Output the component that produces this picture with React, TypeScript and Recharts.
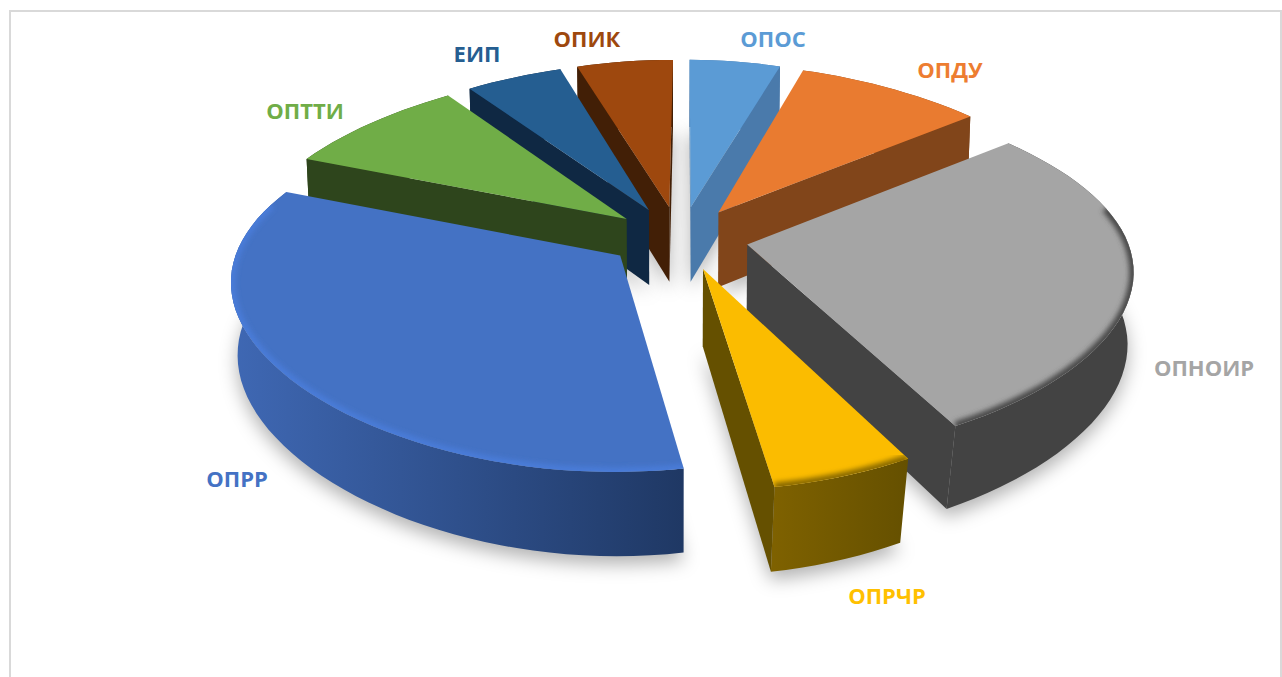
import React from 'react';
import { PieChart, Pie } from 'recharts';

const categories = ['ОПТТИ', 'ЕИП', 'ОПИК', 'ОПОС', 'ОПДУ', 'ОПНОИР', 'ОПРЧР', 'ОПРР'];
const shares = [8.8, 5, 5.3, 5, 9.4, 27.5, 5.4, 33.6];

// back slices first, so the nearer ones cover their walls
const paintOrder = ['ОПИК', 'ОПОС', 'ЕИП', 'ОПДУ', 'ОПТТИ', 'ОПНОИР', 'ОПРЧР', 'ОПРР'];

const topColors = ['#70AD47', '#255E91', '#9E480E', '#5B9BD5', '#E97B30', '#A5A5A5', '#FBBC00', '#4472C4'];
const wallColors = ['#2E451C', '#0F2843', '#421F06', '#4A7AAB', '#81451A', '#434343', '#655000', '#2F5597'];
const rimFrom = ['#2E451C', '#0F2843', '#421F06', '#4A7AAB', '#81451A', '#434343', '#7E6100', '#3F68B4'];
const rimTo = ['#2E451C', '#0F2843', '#421F06', '#4A7AAB', '#81451A', '#434343', '#655000', '#1F3864'];
const bevelColors = ['none', 'none', 'none', 'none', 'none', '#4A4A4A', '#8A6A00', '#4A7CD8'];
const labelColors = ['#70AD47', '#255E91', '#9E480E', '#5B9BD5', '#ED7D31', '#A5A5A5', '#FFC000', '#4472C4'];

const labelPos: Record<string, [number, number]> = {
  'ОПТТИ': [305, 110],
  'ЕИП': [477, 53],
  'ОПИК': [587, 38],
  'ОПОС': [773, 38],
  'ОПДУ': [950, 69],
  'ОПНОИР': [1204, 367],
  'ОПРЧР': [887, 595],
  'ОПРР': [237, 478],
};

const table = categories.map((name, i) => ({ name, value: shares[i], fill: topColors[i] }));

const WIDTH = 1282;
const HEIGHT = 677;
const CX = 680;
const CY = 238;
const RX = 385;
const Y_RATIO = 178 / 385; // squash of the disc
const PERSP = 0.15;
const EXPLODE = 0.18;
const EXPLODE_BIG = 0.2; // the largest slice sits a bit further out
const WALL = 76;

type Pt = [number, number];

// unit disc to screen, depth=1 is the floor of the slice
function project(x: number, y: number, depth: number, cx: number, cy: number, r: number): Pt {
  const sx = 0.985 + 0.15 * y - 0.045 * y * y;
  const sy = 1 / (1 - PERSP * y);
  const converge = 1 - depth * (0.009 + 0.025 * Math.max(0, y));
  return [
    cx + r * x * sx * converge,
    cy + r * Y_RATIO * y * sy + depth * WALL * (1 + 0.1 * y),
  ];
}

function sliceGeometry(props: any) {
  const { cx, cy, outerRadius, startAngle, endAngle, name } = props;
  const a0 = ((90 - startAngle) * Math.PI) / 180;
  const a1 = ((90 - endAngle) * Math.PI) / 180;
  const mid = (a0 + a1) / 2;
  const big = name === 'ОПРР';
  const ex = Math.sin(mid) * (big ? EXPLODE_BIG : EXPLODE);
  const ey = -Math.cos(mid) * (big ? 0.155 : EXPLODE);
  const n = Math.max(6, Math.ceil((a1 - a0) * 24));
  const ring: [number, number][] = [];
  for (let i = 0; i <= n; i++) {
    const a = a0 + ((a1 - a0) * i) / n;
    ring.push([ex + Math.sin(a), ey - Math.cos(a)]);
  }
  const p = (w: [number, number], d: number) => project(w[0], w[1], d, cx, cy, outerRadius);
  return {
    ring,
    top: ring.map((w) => p(w, 0)),
    bottom: ring.map((w) => p(w, 1)),
    apex: p([ex, ey], 0),
    apexLow: p([ex, ey], 1),
  };
}

const toPath = (pts: Pt[], close = true) =>
  pts.map((q, i) => `${i ? 'L' : 'M'}${q[0].toFixed(1)} ${q[1].toFixed(1)}`).join('') + (close ? 'Z' : '');

const ShadowShape = (props: any) => {
  const { bottom, apexLow } = sliceGeometry(props);
  const moved = [apexLow, ...bottom].map((q): Pt => [q[0], q[1] + 8]);
  return <path d={toPath(moved)} fill="#000" fillOpacity={0.3} filter="url(#groundBlur)" />;
};

const SliceShape = (props: any) => {
  const idx = categories.indexOf(props.name);
  const { ring, top, bottom, apex, apexLow } = sliceGeometry(props);
  const wall = wallColors[idx];
  const first = top[0];
  const last = top[top.length - 1];

  // a straight side shows only if "down" on screen points away from the slice
  const cross = (a: Pt, b: Pt) => a[0] * b[1] - a[1] * b[0];
  const showsSide = (edge: Pt, other: Pt) => {
    const e: Pt = [edge[0] - apex[0], edge[1] - apex[1]];
    const o: Pt = [other[0] - apex[0], other[1] - apex[1]];
    return cross(e, [0, 1]) * cross(e, o) < 0;
  };

  const gradId = `rim-${idx}`;
  const clipId = `top-${idx}`;
  const minX = Math.min(...top.map((q) => q[0]));
  const maxX = Math.max(...top.map((q) => q[0]));
  const front = top.filter((_, i) => ring[i][1] > -0.2);

  return (
    <g>
      <defs>
        <linearGradient id={gradId} gradientUnits="userSpaceOnUse" x1={minX} x2={maxX} y1={0} y2={0}>
          <stop offset="0%" stopColor={rimFrom[idx]} />
          <stop offset="100%" stopColor={rimTo[idx]} />
        </linearGradient>
        <clipPath id={clipId}>
          <path d={toPath([apex, ...top])} />
        </clipPath>
      </defs>
      <path d={toPath([...top, ...[...bottom].reverse()])} fill={`url(#${gradId})`} />
      {showsSide(first, last) && (
        <path d={toPath([apex, first, bottom[0], apexLow])} fill={wall} />
      )}
      {showsSide(last, first) && (
        <path d={toPath([apex, last, bottom[bottom.length - 1], apexLow])} fill={wall} />
      )}
      <path d={toPath([apex, ...top])} fill={props.fill} />
      {bevelColors[idx] !== 'none' && (
        <g clipPath={`url(#${clipId})`}>
          <path
            d={toPath(front, false)}
            fill="none"
            stroke={bevelColors[idx]}
            strokeWidth={9}
            filter="url(#bevelBlur)"
          />
        </g>
      )}
    </g>
  );
};

const renderLabel = (props: any) => {
  const idx = categories.indexOf(props.name);
  const [x, y] = labelPos[props.name];
  return (
    <text
      x={x}
      y={y}
      textAnchor="middle"
      dominantBaseline="central"
      fill={labelColors[idx]}
      fontFamily="'Open Sans', sans-serif"
      fontWeight={700}
      fontSize={22}
    >
      {props.name}
    </text>
  );
};

export default function App() {
  const pieProps = {
    data: table,
    dataKey: 'value',
    nameKey: 'name',
    cx: CX,
    cy: CY,
    innerRadius: 0,
    outerRadius: RX,
    startAngle: -201.5,
    endAngle: -561.5,
    stroke: 'none',
    isAnimationActive: false,
  };
  return (
    <div style={{ position: 'absolute', left: 0, top: 0, width: WIDTH, height: HEIGHT, background: '#fff', overflow: 'hidden' }}>
      <div
        style={{
          position: 'absolute',
          left: 9,
          top: 10,
          width: 1269,
          height: 680,
          borderTop: '2px solid #D9D9D9',
          borderLeft: '2px solid #D9D9D9',
          borderRight: '2px solid #D9D9D9',
        }}
      />
      <div style={{ position: 'absolute', left: 0, top: 0 }}>
        <PieChart width={WIDTH} height={HEIGHT} margin={{ top: 0, right: 0, bottom: 0, left: 0 }}>
          <defs>
            <filter id="groundBlur" x="-30%" y="-30%" width="160%" height="160%">
              <feGaussianBlur stdDeviation="9" />
            </filter>
            <filter id="bevelBlur" x="-10%" y="-10%" width="120%" height="120%">
              <feGaussianBlur stdDeviation="2.5" />
            </filter>
          </defs>
          <Pie {...pieProps} shape={ShadowShape} />
          {paintOrder.map((name) => (
            <Pie
              key={name}
              {...pieProps}
              shape={(p: any) => (p.name === name ? <SliceShape {...p} /> : <g />)}
            />
          ))}
          <Pie {...pieProps} shape={() => <g />} label={renderLabel} labelLine={false} />
        </PieChart>
      </div>
    </div>
  );
}
